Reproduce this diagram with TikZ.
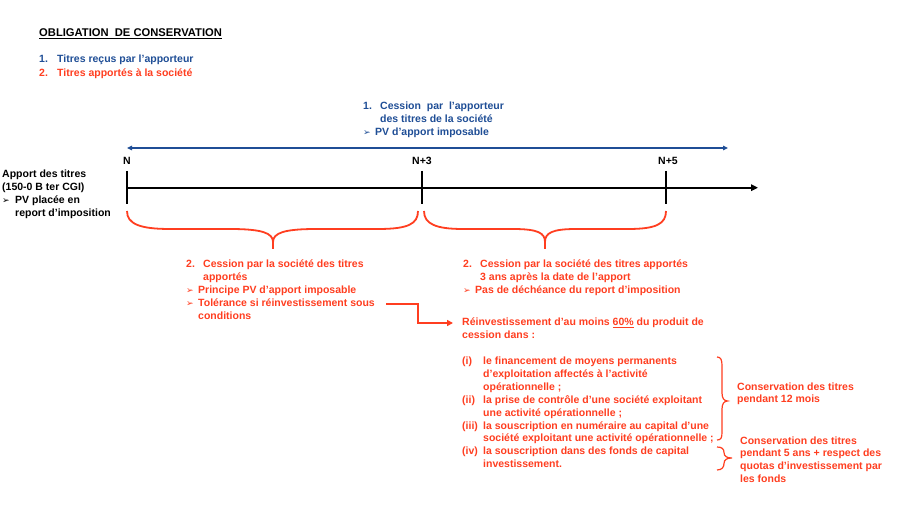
\documentclass[tikz,border=0pt]{standalone}
\usepackage{fontspec}
\setmainfont{Liberation Sans}
\newfontfamily\dvfont{DejaVu Sans}
\usetikzlibrary{arrows.meta}
\definecolor{tblue}{RGB}{31,78,150}
\definecolor{tred}{RGB}{255,62,32}
\newcommand\lbl[2]{\makebox[#1][l]{#2}}
\newcommand\arw{{\dvfont\fontsize{9}{9}\selectfont ➢}}
\newcommand\blk[1]{\begin{tabular}[t]{@{}l@{}}#1\end{tabular}}
\begin{document}
\begin{tikzpicture}[x=1pt,y=-1pt,
  txt/.style={anchor=base west,inner sep=0pt,font=\bfseries\fontsize{10.5}{12.8}\selectfont},
  lbltxt/.style={anchor=base,inner sep=0pt,font=\bfseries\fontsize{10.5}{12.8}\selectfont},
  brace/.style={draw=tred,line width=1.8pt},
  tick/.style={draw=black,line width=1.8pt}]
\fill[white] (0,0) rectangle (899,510);
\useasboundingbox (0,0) rectangle (899,510);

% title and legend
\node[txt,font=\bfseries\fontsize{11.2}{13}\selectfont] (title) at (39,37) {\underline{OBLIGATION\ \ DE CONSERVATION}};
\node[txt,text=tblue] (leg1) at (39,62.3) {\lbl{18pt}{1.}Titres reçus par l’apporteur};
\node[txt,text=tred] (leg2) at (39,76.3) {\lbl{18pt}{2.}Titres apportés à la société};

% blue block
\node[txt,text=tblue] (cess1) at (363,110) {\fontsize{10.5}{13}\selectfont\blk{\lbl{17pt}{1.}Cession\ \ par\ \ l’apporteur\\ \hspace{17pt}des titres de la société\\ \lbl{12pt}{\arw}PV d’apport imposable}};

% blue double arrow
\coordinate (bl) at (127,148);
\coordinate (br) at (728,148);
\draw[tblue,line width=1.2pt,{Triangle[length=5pt,width=4.5pt]}-{Triangle[length=5pt,width=4.5pt]}] (bl) -- (br);

% timeline
\coordinate (t0) at (127,187.7);
\coordinate (tend) at (758,187.7);
\draw[line width=1.8pt,-{Triangle[length=7pt,width=6.5pt]}] (t0) -- (tend);
\coordinate (k0a) at (127,171); \coordinate (k0b) at (127,204);
\coordinate (k3a) at (422,171); \coordinate (k3b) at (422,204);
\coordinate (k5a) at (666,171); \coordinate (k5b) at (666,204);
\draw[tick] (k0a) -- (k0b);
\draw[tick] (k3a) -- (k3b);
\draw[tick] (k5a) -- (k5b);
\node[lbltxt] (n0) at (127,164.5) {N};
\node[lbltxt] (n3) at (422,164.5) {N+3};
\node[lbltxt] (n5) at (668,164.5) {N+5};

% left text
\node[txt] (apport) at (2,178) {\fontsize{10.5}{13}\selectfont\blk{Apport des titres\\ (150-0 B ter CGI)\\ \lbl{13pt}{\arw}PV placée en\\ \hspace{13pt}report d’imposition}};

% braces under timeline
\draw[brace] (127,211) .. controls (127,224) and (140,229) .. (170,229) -- (230,229)
  .. controls (262,229) and (273,233) .. (273,242) -- (273,249);
\draw[brace] (273,242) .. controls (273,233) and (284,229) .. (316,229) -- (378,229)
  .. controls (408,229) and (418,224) .. (418,211);
\draw[brace] (424,211) .. controls (424,224) and (436,229) .. (463,229) -- (513,229)
  .. controls (538,229) and (545,233) .. (545,242) -- (545,249);
\draw[brace] (545,242) .. controls (545,233) and (552,229) .. (576,229) -- (628,229)
  .. controls (656,229) and (666,224) .. (666,211);

% red block 1
\node[txt,text=tred] (sold1) at (186,268) {\blk{\lbl{17pt}{2.}Cession par la société des titres\\ \hspace{17pt}apportés\\ \lbl{12pt}{\arw}Principe PV d’apport imposable\\ \lbl{12pt}{\arw}Tolérance si réinvestissement sous\\ \hspace{12pt}conditions}};

% red block 2
\node[txt,text=tred] (sold2) at (463,268) {\blk{\lbl{17pt}{2.}Cession par la société des titres apportés\\ \hspace{17pt}3 ans après la date de l’apport\\ \lbl{12pt}{\arw}Pas de déchéance du report d’imposition}};

% reinvestment
\node[txt,text=tred] (reinv) at (462,326) {\blk{Réinvestissement d’au moins \underline{60\%} du produit de\\ cession dans :}};

% connector
\coordinate (cs) at (386,304);
\coordinate (ce) at (453,323);
\draw[tred,line width=1.8pt,-{Triangle[length=6pt,width=6pt]}] (cs) -- (418,304) |- (ce);

% list
\node[txt,text=tred] (list) at (462,364.5) {\fontsize{10.5}{12.9}\selectfont\blk{\lbl{21pt}{(i)}le financement de moyens permanents\\ \hspace{21pt}d’exploitation affectés à l’activité\\ \hspace{21pt}opérationnelle ;\\ \lbl{21pt}{(ii)}la prise de contrôle d’une société exploitant\\ \hspace{21pt}une activité opérationnelle ;\\ \lbl{21pt}{(iii)}la souscription en numéraire au capital d’une\\ \hspace{21pt}société exploitant une activité opérationnelle ;\\ \lbl{21pt}{(iv)}la souscription dans des fonds de capital\\ \hspace{21pt}investissement.}};

% right braces
\draw[tred,line width=1.2pt] (717,357) .. controls (721,357) and (722,360) .. (722,366) -- (722,393)
  .. controls (722,398) and (724,401) .. (727.5,401) .. controls (724,401) and (722,404) .. (722,409)
  -- (722,432) .. controls (722,438) and (721,440) .. (717,440);
\draw[tred,line width=1.2pt] (717,447) .. controls (722,447) and (724,449) .. (724,452.5)
  .. controls (724,456.5) and (727,458) .. (732,458) .. controls (727,458) and (724,459.5) .. (724,463.5)
  .. controls (724,467) and (722,470) .. (717,470);

\node[txt,text=tred] (keep12) at (737,390) {\blk{Conservation des titres\\ pendant 12 mois}};
\node[txt,text=tred] (keep5) at (740,444) {\blk{Conservation des titres\\ pendant 5 ans + respect des\\ quotas d’investissement par\\ les fonds}};
\end{tikzpicture}
\end{document}
